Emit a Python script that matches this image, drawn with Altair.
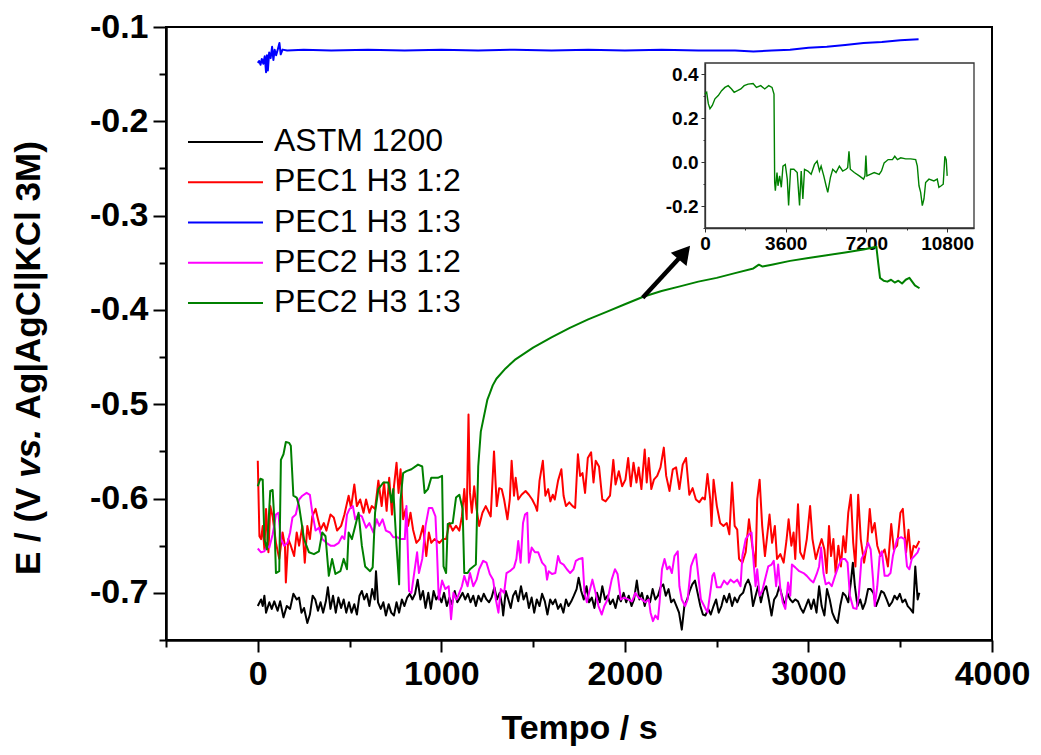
import altair as alt
import pandas as pd

FONT = "Liberation Sans"

SERIES = ["ASTM 1200", "PEC1 H3 1:2", "PEC1 H3 1:3", "PEC2 H3 1:2", "PEC2 H3 1:3"]
COLORS = ["#000000", "#ff0000", "#0000ff", "#ff00ff", "#008000"]
WIDTHS = [2, 2, 5, 2, 2]

# (time s, potential V)
astm = [(0,-0.714),(18,-0.707),(27,-0.714),(36,-0.703),(45,-0.721),(63,-0.710),(76,-0.717),(90,-0.709),(108,-0.719),(122,-0.709),
        (140,-0.726),(158,-0.714),(176,-0.717),(194,-0.701),(212,-0.707),(225,-0.705),(238,-0.721),(252,-0.716),(270,-0.732),(284,-0.723),
        (299,-0.703),(313,-0.707),(328,-0.719),(342,-0.710),(356,-0.721),(371,-0.709),(382,-0.694),(396,-0.717),(410,-0.703),(425,-0.721),
        (439,-0.705),(454,-0.716),(468,-0.707),(482,-0.721),(497,-0.710),(511,-0.721),(526,-0.712),(540,-0.723),(554,-0.703),(567,-0.698),
        (580,-0.707),(594,-0.701),(608,-0.714),(623,-0.696),(637,-0.707),(644,-0.677),(655,-0.710),(670,-0.717),(684,-0.710),(698,-0.724),
        (713,-0.712),(727,-0.721),(742,-0.724),(756,-0.710),(770,-0.721),(785,-0.707),(799,-0.714),(814,-0.705),(828,-0.701),(842,-0.707),
        (857,-0.701),(871,-0.686),(886,-0.707),(900,-0.698),(914,-0.716),(929,-0.700),(943,-0.717),(958,-0.698),(972,-0.707),(986,-0.703),
        (1001,-0.710),(1015,-0.700),(1030,-0.714),(1044,-0.705),(1058,-0.712),(1073,-0.698),(1087,-0.710),(1102,-0.705),(1116,-0.700),(1130,-0.707),
        (1145,-0.701),(1159,-0.710),(1174,-0.703),(1188,-0.714),(1202,-0.703),(1217,-0.709),(1231,-0.701),(1246,-0.707),(1260,-0.710),(1274,-0.705),
        (1289,-0.694),(1303,-0.707),(1318,-0.700),(1332,-0.714),(1337,-0.724),(1351,-0.698),(1365,-0.707),(1378,-0.716),(1391,-0.703),(1405,-0.698),
        (1419,-0.709),(1434,-0.693),(1448,-0.707),(1463,-0.700),(1477,-0.716),(1492,-0.705),(1506,-0.721),(1520,-0.707),(1535,-0.714),(1549,-0.701),
        (1564,-0.709),(1578,-0.723),(1593,-0.707),(1607,-0.712),(1621,-0.707),(1636,-0.717),(1650,-0.712),(1665,-0.721),(1679,-0.707),(1693,-0.714),
        (1708,-0.709),(1722,-0.703),(1737,-0.696),(1748,-0.684),(1762,-0.698),(1776,-0.707),(1791,-0.693),(1805,-0.710),(1820,-0.705),(1834,-0.716),
        (1848,-0.700),(1863,-0.710),(1877,-0.693),(1892,-0.707),(1906,-0.703),(1920,-0.712),(1935,-0.707),(1949,-0.716),(1964,-0.703),(1978,-0.709),
        (1993,-0.700),(2007,-0.710),(2021,-0.703),(2036,-0.714),(2050,-0.707),(2065,-0.687),(2079,-0.707),(2093,-0.700),(2108,-0.714),(2122,-0.703),
        (2137,-0.710),(2151,-0.696),(2166,-0.707),(2180,-0.703),(2194,-0.694),(2209,-0.691),(2223,-0.703),(2238,-0.696),(2252,-0.710),(2266,-0.707),
        (2281,-0.714),(2295,-0.721),(2310,-0.739),(2324,-0.714),(2339,-0.707),(2353,-0.698),(2367,-0.691),(2382,-0.687),(2396,-0.700),(2411,-0.714),
        (2425,-0.723),(2439,-0.724),(2454,-0.717),(2468,-0.723),(2483,-0.714),(2497,-0.707),(2511,-0.721),(2526,-0.714),(2540,-0.703),(2555,-0.710),
        (2569,-0.701),(2584,-0.714),(2598,-0.705),(2612,-0.710),(2627,-0.703),(2644,-0.700),(2658,-0.691),(2672,-0.686),(2685,-0.693),(2698,-0.714),
        (2712,-0.703),(2726,-0.693),(2741,-0.710),(2755,-0.698),(2770,-0.693),(2784,-0.707),(2799,-0.724),(2813,-0.707),(2827,-0.703),(2842,-0.693),
        (2856,-0.703),(2871,-0.714),(2885,-0.700),(2900,-0.707),(2914,-0.710),(2928,-0.707),(2943,-0.709),(2957,-0.716),(2972,-0.721),(2986,-0.714),
        (3000,-0.707),(3015,-0.717),(3029,-0.707),(3044,-0.721),(3058,-0.693),(3072,-0.714),(3087,-0.724),(3101,-0.696),(3116,-0.707),(3130,-0.721),
        (3145,-0.728),(3159,-0.732),(3173,-0.714),(3188,-0.700),(3202,-0.703),(3217,-0.710),(3231,-0.689),(3242,-0.668),(3253,-0.693),(3267,-0.714),
        (3282,-0.707),(3296,-0.717),(3310,-0.710),(3325,-0.696),(3339,-0.696),(3354,-0.700),(3368,-0.714),(3382,-0.707),(3397,-0.698),(3411,-0.700),
        (3426,-0.707),(3440,-0.714),(3455,-0.710),(3469,-0.703),(3483,-0.707),(3498,-0.701),(3512,-0.710),(3527,-0.707),(3541,-0.714),(3555,-0.717),
        (3570,-0.721),(3582,-0.672),(3595,-0.707),(3604,-0.700)]

pec1_12 = [(0,-0.560),(9,-0.640),(18,-0.643),(27,-0.629),(36,-0.654),(45,-0.611),(58,-0.657),(68,-0.608),(81,-0.619),(99,-0.647),
           (117,-0.664),(135,-0.636),(148,-0.650),(153,-0.689),(166,-0.643),(180,-0.650),(198,-0.661),(212,-0.636),(225,-0.650),(243,-0.629),
           (256,-0.668),(270,-0.629),(284,-0.643),(297,-0.619),(315,-0.611),(328,-0.622),(342,-0.633),(360,-0.626),(374,-0.634),(396,-0.617),
           (414,-0.620),(432,-0.634),(454,-0.629),(472,-0.617),(495,-0.597),(508,-0.610),(526,-0.585),(540,-0.608),(558,-0.601),(576,-0.615),
           (590,-0.601),(608,-0.615),(621,-0.608),(639,-0.611),(657,-0.581),(675,-0.608),(688,-0.583),(702,-0.613),(716,-0.578),(731,-0.617),
           (742,-0.587),(756,-0.562),(767,-0.594),(778,-0.569),(792,-0.622),(806,-0.611),(819,-0.629),(832,-0.615),(846,-0.633),(864,-0.647),
           (882,-0.643),(900,-0.629),(918,-0.661),(932,-0.636),(945,-0.647),(963,-0.643),(990,-0.647),(1008,-0.643),(1026,-0.643),(1044,-0.626),
           (1062,-0.634),(1080,-0.629),(1098,-0.634),(1112,-0.619),(1125,-0.590),(1138,-0.622),(1148,-0.511),(1156,-0.594),(1166,-0.615),(1179,-0.587),
           (1192,-0.611),(1206,-0.629),(1224,-0.615),(1242,-0.608),(1269,-0.619),(1287,-0.550),(1302,-0.608),(1315,-0.589),(1329,-0.590),(1342,-0.601),
           (1360,-0.622),(1373,-0.601),(1383,-0.560),(1396,-0.597),(1405,-0.578),(1419,-0.601),(1437,-0.596),(1459,-0.592),(1477,-0.596),(1495,-0.601),
           (1513,-0.608),(1522,-0.613),(1535,-0.581),(1553,-0.560),(1567,-0.597),(1582,-0.590),(1594,-0.603),(1607,-0.596),(1618,-0.601),(1636,-0.581),
           (1654,-0.569),(1666,-0.597),(1679,-0.608),(1697,-0.604),(1715,-0.608),(1729,-0.610),(1744,-0.553),(1756,-0.576),(1769,-0.573),(1783,-0.594),
           (1798,-0.557),(1816,-0.551),(1829,-0.583),(1841,-0.560),(1859,-0.566),(1877,-0.601),(1895,-0.603),(1919,-0.597),(1937,-0.559),(1949,-0.585),
           (1967,-0.571),(1985,-0.587),(2003,-0.580),(2018,-0.557),(2032,-0.587),(2047,-0.562),(2063,-0.583),(2075,-0.567),(2090,-0.590),(2108,-0.548),
           (2119,-0.583),(2130,-0.557),(2144,-0.590),(2158,-0.580),(2176,-0.576),(2194,-0.567),(2212,-0.546),(2225,-0.576),(2243,-0.592),(2261,-0.569),
           (2279,-0.567),(2297,-0.590),(2315,-0.564),(2333,-0.557),(2351,-0.596),(2369,-0.589),(2387,-0.601),(2405,-0.604),(2423,-0.599),(2436,-0.601),
           (2450,-0.574),(2465,-0.601),(2472,-0.629),(2483,-0.580),(2501,-0.608),(2519,-0.626),(2537,-0.629),(2555,-0.626),(2569,-0.638),(2584,-0.583),
           (2598,-0.629),(2612,-0.633),(2622,-0.664),(2640,-0.668),(2658,-0.657),(2676,-0.622),(2694,-0.650),(2712,-0.672),(2721,-0.601),(2734,-0.580),
           (2748,-0.629),(2763,-0.661),(2775,-0.640),(2788,-0.617),(2802,-0.647),(2817,-0.629),(2829,-0.664),(2847,-0.659),(2865,-0.668),(2880,-0.645),
           (2892,-0.622),(2907,-0.650),(2919,-0.636),(2928,-0.664),(2943,-0.606),(2955,-0.657),(2973,-0.664),(2991,-0.643),(3009,-0.608),(3022,-0.643),
           (3040,-0.664),(3054,-0.654),(3072,-0.643),(3087,-0.654),(3099,-0.679),(3112,-0.629),(3123,-0.661),(3136,-0.643),(3148,-0.679),(3163,-0.650),
           (3177,-0.672),(3190,-0.640),(3202,-0.657),(3217,-0.615),(3231,-0.596),(3244,-0.647),(3256,-0.672),(3271,-0.596),(3285,-0.643),(3303,-0.668),
           (3321,-0.647),(3334,-0.611),(3346,-0.636),(3361,-0.626),(3375,-0.650),(3393,-0.661),(3415,-0.654),(3433,-0.672),(3451,-0.627),(3465,-0.654),
           (3483,-0.650),(3501,-0.615),(3514,-0.611),(3532,-0.657),(3545,-0.633),(3559,-0.664),(3573,-0.650),(3586,-0.652),(3604,-0.645)]

pec1_13 = [(0,-0.138),(8,-0.136),(15,-0.140),(22,-0.134),(30,-0.139),(38,-0.131),(45,-0.148),(50,-0.130),(55,-0.146),(62,-0.127),
           (70,-0.133),(78,-0.121),(85,-0.135),(92,-0.124),(100,-0.130),(110,-0.123),(118,-0.117),(125,-0.129),(135,-0.124),(160,-0.125),
           (250,-0.124),(400,-0.125),(600,-0.124),(800,-0.125),(1000,-0.124),(1200,-0.125),(1400,-0.124),(1600,-0.125),(1800,-0.124),(2000,-0.125),
           (2200,-0.124),(2400,-0.125),(2600,-0.125),(2700,-0.126),(2800,-0.125),(2900,-0.124),(3000,-0.122),(3100,-0.121),(3200,-0.119),(3300,-0.117),
           (3400,-0.116),(3500,-0.114),(3600,-0.113)]

pec2_12 = [(0,-0.653),(18,-0.657),(36,-0.656),(50,-0.650),(63,-0.652),(81,-0.638),(99,-0.617),(112,-0.615),(126,-0.643),(144,-0.650),
           (162,-0.647),(176,-0.636),(189,-0.620),(207,-0.617),(225,-0.601),(243,-0.597),(266,-0.594),(284,-0.596),(297,-0.615),(315,-0.634),
           (333,-0.631),(351,-0.643),(374,-0.647),(396,-0.650),(418,-0.650),(441,-0.647),(459,-0.640),(472,-0.643),(486,-0.617),(500,-0.611),
           (518,-0.608),(531,-0.622),(549,-0.617),(567,-0.619),(590,-0.631),(608,-0.626),(630,-0.636),(648,-0.622),(662,-0.629),(680,-0.622),
           (698,-0.634),(720,-0.636),(738,-0.641),(760,-0.641),(778,-0.643),(801,-0.643),(810,-0.608),(824,-0.698),(837,-0.700),(855,-0.675),
           (868,-0.657),(878,-0.679),(896,-0.664),(914,-0.629),(932,-0.610),(950,-0.610),(968,-0.619),(976,-0.654),(986,-0.707),(1004,-0.687),
           (1022,-0.696),(1040,-0.693),(1053,-0.728),(1066,-0.700),(1084,-0.707),(1098,-0.700),(1112,-0.693),(1125,-0.682),(1143,-0.693),(1156,-0.679),
           (1174,-0.693),(1192,-0.686),(1206,-0.675),(1228,-0.666),(1246,-0.668),(1264,-0.680),(1282,-0.686),(1297,-0.707),(1311,-0.721),(1324,-0.696),
           (1342,-0.700),(1355,-0.679),(1373,-0.677),(1396,-0.673),(1409,-0.664),(1419,-0.645),(1432,-0.668),(1445,-0.626),(1456,-0.617),(1468,-0.615),
           (1477,-0.668),(1492,-0.652),(1510,-0.657),(1528,-0.657),(1549,-0.668),(1567,-0.672),(1576,-0.686),(1585,-0.677),(1603,-0.680),(1621,-0.679),
           (1636,-0.661),(1648,-0.668),(1666,-0.670),(1684,-0.675),(1702,-0.679),(1720,-0.675),(1733,-0.666),(1751,-0.664),(1769,-0.663),(1780,-0.700),
           (1793,-0.710),(1805,-0.700),(1823,-0.686),(1838,-0.698),(1856,-0.714),(1874,-0.723),(1888,-0.714),(1906,-0.707),(1928,-0.686),(1946,-0.675),
           (1960,-0.680),(1978,-0.707),(1996,-0.705),(2018,-0.707),(2039,-0.709),(2057,-0.700),(2075,-0.705),(2093,-0.707),(2111,-0.710),(2130,-0.707),
           (2140,-0.721),(2153,-0.730),(2166,-0.724),(2180,-0.728),(2189,-0.710),(2202,-0.675),(2216,-0.664),(2230,-0.675),(2243,-0.672),(2256,-0.679),
           (2270,-0.661),(2288,-0.656),(2297,-0.693),(2310,-0.707),(2328,-0.714),(2342,-0.707),(2360,-0.672),(2375,-0.664),(2387,-0.659),(2400,-0.682),
           (2414,-0.707),(2432,-0.714),(2450,-0.721),(2465,-0.700),(2477,-0.682),(2486,-0.679),(2501,-0.694),(2522,-0.694),(2540,-0.687),(2558,-0.691),
           (2576,-0.686),(2594,-0.689),(2612,-0.686),(2630,-0.693),(2640,-0.661),(2658,-0.643),(2676,-0.638),(2690,-0.636),(2703,-0.672),(2712,-0.693),
           (2721,-0.675),(2734,-0.703),(2748,-0.698),(2763,-0.686),(2781,-0.672),(2799,-0.670),(2811,-0.666),(2824,-0.693),(2835,-0.670),(2847,-0.696),
           (2860,-0.710),(2874,-0.717),(2889,-0.689),(2901,-0.703),(2910,-0.670),(2928,-0.673),(2950,-0.677),(2973,-0.679),(2991,-0.682),(3009,-0.686),
           (3027,-0.689),(3045,-0.680),(3058,-0.672),(3069,-0.652),(3082,-0.679),(3094,-0.691),(3112,-0.689),(3127,-0.693),(3145,-0.682),(3163,-0.672),
           (3181,-0.664),(3199,-0.664),(3213,-0.668),(3226,-0.703),(3244,-0.716),(3262,-0.717),(3274,-0.703),(3289,-0.664),(3307,-0.657),(3325,-0.647),
           (3339,-0.654),(3352,-0.686),(3361,-0.714),(3375,-0.693),(3388,-0.661),(3400,-0.656),(3415,-0.682),(3433,-0.682),(3447,-0.679),(3460,-0.661),
           (3483,-0.643),(3505,-0.641),(3523,-0.643),(3537,-0.672),(3550,-0.675),(3563,-0.664),(3577,-0.661),(3595,-0.657),(3604,-0.652)]

pec2_13 = [(0,-0.587),(14,-0.579),(27,-0.580),(36,-0.643),(50,-0.654),(68,-0.592),(81,-0.591),(90,-0.622),(99,-0.679),(117,-0.677),
           (126,-0.559),(140,-0.553),(153,-0.540),(171,-0.541),(180,-0.544),(194,-0.597),(212,-0.599),(225,-0.608),(252,-0.643),(279,-0.657),
           (306,-0.659),(333,-0.656),(351,-0.636),(369,-0.640),(387,-0.682),(405,-0.664),(423,-0.680),(450,-0.677),(468,-0.664),(486,-0.675),
           (495,-0.636),(513,-0.643),(531,-0.629),(549,-0.615),(567,-0.650),(585,-0.672),(612,-0.677),(626,-0.673),(639,-0.615),(657,-0.590),
           (684,-0.583),(711,-0.583),(729,-0.604),(738,-0.590),(756,-0.650),(770,-0.691),(778,-0.601),(792,-0.573),(810,-0.571),(837,-0.569),
           (873,-0.564),(896,-0.566),(909,-0.594),(927,-0.590),(945,-0.578),(981,-0.578),(1004,-0.576),(1012,-0.672),(1026,-0.679),(1035,-0.627),
           (1062,-0.626),(1080,-0.599),(1098,-0.596),(1116,-0.611),(1125,-0.679),(1143,-0.679),(1156,-0.675),(1188,-0.670),(1201,-0.566),(1215,-0.529),
           (1251,-0.495),(1265,-0.488),(1280,-0.480),(1300,-0.473),(1350,-0.462),(1400,-0.453),(1500,-0.440),(1600,-0.429),(1700,-0.419),(1800,-0.410),
           (1900,-0.402),(2000,-0.394),(2100,-0.386),(2200,-0.380),(2300,-0.375),(2400,-0.370),(2500,-0.366),(2600,-0.361),(2700,-0.356),(2730,-0.352),
           (2750,-0.354),(2800,-0.352),(2900,-0.348),(3000,-0.345),(3100,-0.342),(3200,-0.339),(3300,-0.336),(3370,-0.333),(3380,-0.350),(3390,-0.366),
           (3410,-0.369),(3430,-0.370),(3450,-0.368),(3470,-0.371),(3490,-0.369),(3510,-0.372),(3530,-0.368),(3550,-0.366),(3565,-0.370),(3580,-0.374),
           (3605,-0.377)]

# inset: PEC2 H3 1:3 over the full 3 h run
inset_pec2_13 = [(0,0.309),(74,0.317),(148,0.265),(222,0.242),(326,0.257),(444,0.287),(592,0.302),(740,0.324),(888,0.339),(1036,0.347),
                 (1184,0.332),(1302,0.317),(1450,0.324),(1598,0.332),(1746,0.347),(1924,0.354),(2146,0.357),(2294,0.339),(2486,0.347),(2664,0.332),
                 (2842,0.347),(2990,0.339),(3078,0.309),(3108,-0.093),(3138,-0.130),(3212,-0.048),(3256,-0.108),(3330,-0.063),(3404,-0.115),(3478,-0.019),
                 (3582,-0.011),(3670,-0.078),(3730,-0.198),(3818,-0.033),(3966,-0.033),(4114,-0.048),(4218,-0.198),(4292,-0.041),(4366,-0.168),(4440,-0.033),
                 (4588,-0.041),(4736,-0.056),(4884,-0.011),(5002,0.004),(5106,-0.041),(5180,-0.019),(5298,-0.063),(5402,-0.108),(5476,-0.138),(5594,-0.071),
                 (5698,-0.033),(5846,-0.048),(5994,-0.019),(6142,-0.041),(6290,-0.033),(6364,-0.026),(6423,0.049),(6482,-0.033),(6660,-0.048),(6882,-0.063),
                 (7074,-0.078),(7134,-0.063),(7178,0.029),(7222,-0.063),(7370,-0.056),(7548,-0.048),(7770,-0.056),(7874,-0.041),(7992,-0.004),(8170,0.011),
                 (8362,0.011),(8466,0.026),(8584,0.011),(8732,0.019),(8954,0.014),(9176,0.014),(9398,0.011),(9472,-0.019),(9546,-0.108),(9620,-0.138),
                 (9694,-0.198),(9768,-0.168),(9842,-0.093),(9990,-0.078),(10212,-0.086),(10360,-0.078),(10434,-0.115),(10538,-0.108),(10627,-0.101),(10701,0.026),
                 (10760,0.011),(10804,-0.063)]

X_TICKS = [-500, 0, 500, 1000, 1500, 2000, 2500, 3000, 3500, 4000]
Y_TICKS = [-0.75, -0.7, -0.65, -0.6, -0.55, -0.5, -0.45, -0.4, -0.35, -0.3, -0.25, -0.2, -0.15, -0.1]
INSET_X_TICKS = [0, 1800, 3600, 5400, 7200, 9000, 10800]
INSET_Y_TICKS = [-0.3, -0.2, -0.1, 0.0, 0.1, 0.2, 0.3, 0.4]

ARROW_START = [2097, -0.387]
ARROW_HEAD = [2324, -0.3392]

Y_TITLE_PARTS = ["E / (V", "vs.", "Ag|AgCl|KCl 3M)"]

# ---------------------------------------------------------------- tables
rows = []
for name, pts in zip(SERIES, [astm, pec1_12, pec1_13, pec2_12, pec2_13]):
    for t, e in pts:
        rows.append({"series": name, "t": t, "e": e})
df = pd.DataFrame(rows)
inset_df = pd.DataFrame(inset_pec2_13, columns=["t", "e"])
legend_df = pd.DataFrame({"series": SERIES, "row": list(range(len(SERIES)))})
arrow_df = pd.DataFrame({"t": [ARROW_START[0]], "e": [ARROW_START[1]],
                         "t2": [ARROW_HEAD[0]], "e2": [ARROW_HEAD[1]]})

XDOM = [-500, 4000]
YDOM = [-0.75, -0.1]
W, H = 826, 613
PAD_L, PAD_T = 158, 19
PAD_R = 1025 - PAD_L - W
PAD_B = 739 - PAD_T - H

MAJ_X = "datum.value % 1000 === 0"
MAJ_Y = "abs(round(datum.value*100)) % 10 === 0"
NEGFMT = "(datum.value < -0.0001 ? '-' : '') + format(abs(datum.value), '.1f')"

color_scale = alt.Scale(domain=SERIES, range=COLORS)

main = alt.Chart(df).mark_line(strokeJoin="round").encode(
    x=alt.X("t:Q", scale=alt.Scale(domain=XDOM, nice=False, zero=False),
            axis=alt.Axis(values=X_TICKS, labelExpr=f"{MAJ_X} ? format(datum.value, 'd') : ''",
                          tickSize={"condition": {"test": MAJ_X, "value": 12}, "value": 7},
                          tickWidth=2, tickColor="black", domainColor="black", domainWidth=2.5,
                          labelFont=FONT, labelFontSize=34, labelFontWeight="bold", labelColor="black",
                          labelPadding=5, labelFlush=False, labelOverlap=False, grid=False,
                          title="Tempo / s", titleFont=FONT, titleFontSize=34, titleFontWeight="bold",
                          titleColor="black", titleBaseline="alphabetic", titleY=98)),
    y=alt.Y("e:Q", scale=alt.Scale(domain=YDOM, nice=False, zero=False),
            axis=alt.Axis(values=Y_TICKS, labelExpr=f"{MAJ_Y} ? {NEGFMT} : ''",
                          tickSize={"condition": {"test": MAJ_Y, "value": 13}, "value": 7},
                          tickWidth=2, tickColor="black", domainColor="black", domainWidth=2.5,
                          labelFont=FONT, labelFontSize=34, labelFontWeight="bold", labelColor="black",
                          labelPadding=5, labelOverlap=False, grid=False, title=None)),
    color=alt.Color("series:N", scale=color_scale, legend=None),
    strokeWidth=alt.StrokeWidth("series:N", scale=alt.Scale(domain=SERIES, range=WIDTHS), legend=None),
)

# arrow pointing to inset
arrow_shaft = alt.Chart(arrow_df).mark_rule(color="black", strokeWidth=4.5).encode(
    x=alt.X("t:Q", scale=alt.Scale(domain=XDOM, nice=False, zero=False), axis=None),
    y=alt.Y("e:Q", scale=alt.Scale(domain=YDOM, nice=False, zero=False), axis=None),
    x2="t2:Q", y2="e2:Q")
arrow_head = alt.Chart(arrow_df).mark_point(shape="triangle-up", filled=True, color="black",
                                            size=420, angle=40, opacity=1).encode(
    x=alt.X("t2:Q", scale=alt.Scale(domain=XDOM, nice=False, zero=False), axis=None),
    y=alt.Y("e2:Q", scale=alt.Scale(domain=YDOM, nice=False, zero=False), axis=None))

# legend
leg_y = alt.Y("row:Q", scale=alt.Scale(domain=[0, 4], range=[115, 276]), axis=None)
leg_lines = alt.Chart(legend_df).mark_rule(strokeWidth=2).encode(
    x=alt.value(22), x2=alt.value(97), y=leg_y,
    color=alt.Color("series:N", scale=color_scale, legend=None))
leg_text = alt.Chart(legend_df).mark_text(align="left", baseline="middle", font=FONT,
                                          fontSize=32, color="black", dy=-1).encode(
    x=alt.value(108), y=leg_y, text="series:N")

# y title in three pieces (italic "vs.")
def ytitle_piece(txt, ypos, style):
    return alt.Chart(pd.DataFrame({"s": [txt]})).mark_text(
        angle=270, align="left", baseline="alphabetic", font=FONT, fontSize=35,
        fontWeight="bold", fontStyle=style, color="black").encode(
        x=alt.value(-126), y=alt.value(ypos), text="s:N")

em = 35.0
space = 0.278 * em
w1 = 2.501 * em + space   # "E / (V" + space
w2 = 1.390 * em + space   # "vs." + space
ytitle = [ytitle_piece(Y_TITLE_PARTS[0], 548, "normal"),
          ytitle_piece(Y_TITLE_PARTS[1], 548 - w1, "italic"),
          ytitle_piece(Y_TITLE_PARTS[2], 548 - w1 - w2, "normal")]

# inset
IX0, IX1, IY0, IY1 = 539, 808, 36, 201
MAJ_IX = "datum.value % 3600 === 0"
MAJ_IY = "abs(round(datum.value*10)) % 2 === 0"
inset_frame = alt.Chart(pd.DataFrame({"k": [0]})).mark_rect(
    fill="white", fillOpacity=0, stroke="#333333", strokeWidth=1.3).encode(
    x=alt.value(IX0), x2=alt.value(IX1), y=alt.value(IY0), y2=alt.value(IY1))
inset = alt.Chart(inset_df).mark_line(color="#008000", strokeWidth=1.4).encode(
    x=alt.X("t:Q", scale=alt.Scale(domain=[0, 12000], range=[IX0, IX1], nice=False, zero=False),
            axis=alt.Axis(orient="bottom", offset=IY1 - H, values=INSET_X_TICKS,
                          labelExpr=f"{MAJ_IX} ? format(datum.value, 'd') : ''",
                          tickSize={"condition": {"test": MAJ_IX, "value": 4}, "value": 2},
                          tickColor="#333333", domainColor="#333333", domainWidth=1.3,
                          labelFont=FONT, labelFontSize=19, labelFontWeight="bold", labelColor="black",
                          labelPadding=2, labelFlush=False, labelOverlap=False, grid=False, title=None)),
    y=alt.Y("e:Q", scale=alt.Scale(domain=[-0.3, 0.45], range=[IY1, IY0], nice=False, zero=False),
            axis=alt.Axis(orient="left", offset=-IX0, values=INSET_Y_TICKS,
                          labelExpr=f"{MAJ_IY} ? {NEGFMT} : ''",
                          tickSize={"condition": {"test": MAJ_IY, "value": 4}, "value": 2},
                          tickColor="#333333", domainColor="#333333", domainWidth=1.3,
                          labelFont=FONT, labelFontSize=19, labelFontWeight="bold", labelColor="black",
                          labelPadding=3, labelOverlap=False, grid=False, title=None)),
)

chart = alt.layer(main, arrow_shaft, arrow_head, leg_lines, leg_text, *ytitle, inset_frame, inset).resolve_scale(
    x="independent", y="independent", color="independent", strokeWidth="independent"
).properties(
    width=W, height=H,
    autosize=alt.AutoSizeParams(type="none"),
    padding={"left": PAD_L, "top": PAD_T, "right": PAD_R, "bottom": PAD_B},
    background="white",
).configure_view(stroke="black", strokeWidth=2)

chart.save("out.html", embed_options={"renderer": "svg", "actions": False})
